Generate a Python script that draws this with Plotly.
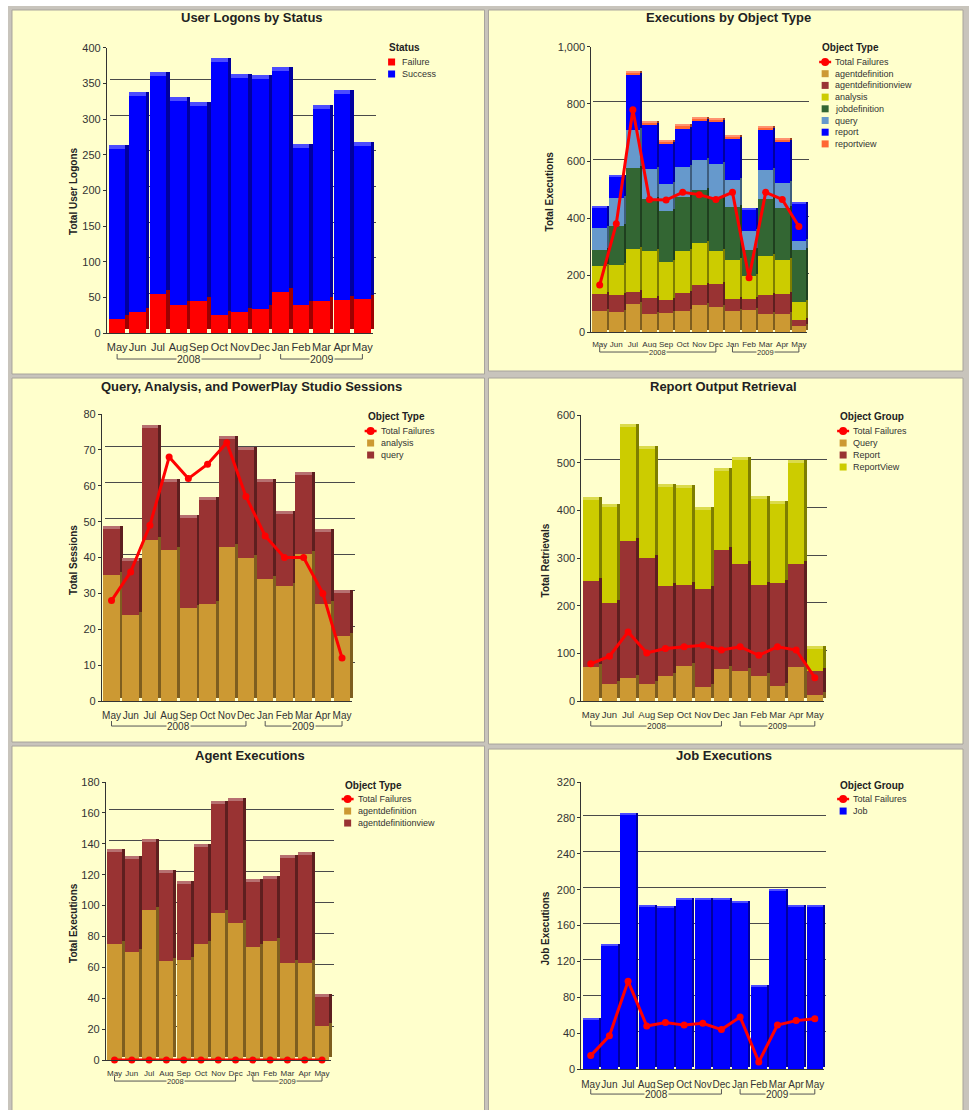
import plotly.graph_objects as go

W = 970
HF = 1128          # figure height (page px)
SCALE = 0.9893     # observed vertical scale of the photographed page
OFF = 5.06         # observed top offset of the photographed page


def px(x):
    return x / W


def py(y):
    """reference pixel row -> paper fraction"""
    page_y = y / SCALE - OFF
    return 1 - page_y / HF


# ---------------- data ----------------
months = ["May", "Jun", "Jul", "Aug", "Sep", "Oct", "Nov", "Dec", "Jan", "Feb", "Mar", "Apr", "May"]
x_idx = list(range(len(months)))
year_labels = ["2008", "2009"]
year_spans = [(0, 7), (8, 12)]

# User Logons by Status
logon_failure = [20, 29, 55, 40, 45, 25, 30, 33, 57, 40, 45, 47, 48]
logon_success = [238, 303, 305, 286, 273, 355, 328, 324, 311, 220, 270, 289, 215]

# Executions by Object Type
exec_failures = [165, 380, 780, 465, 463, 490, 482, 465, 490, 190, 490, 465, 370]
exec_agentdefinition = [75, 70, 97, 64, 65, 75, 95, 89, 73, 77, 63, 63, 22]
exec_agentdefinitionview = [60, 60, 44, 57, 49, 63, 71, 79, 42, 40, 68, 70, 19]
exec_analysis = [96, 106, 150, 163, 130, 146, 145, 117, 138, 78, 137, 120, 65]
exec_jobdefinition = [55, 137, 283, 181, 180, 188, 189, 189, 185, 91, 199, 181, 181]
exec_query = [80, 96, 135, 106, 94, 107, 104, 117, 95, 70, 103, 90, 32]
exec_report = [69, 74, 193, 158, 145, 135, 137, 147, 143, 72, 140, 143, 129]
exec_reportview = [0, 0, 6, 3, 2, 10, 8, 5, 9, 0, 7, 8, 0]

# Query, Analysis, and PowerPlay Studio Sessions
sess_failures = [28, 36, 49, 68, 62, 66, 72, 57, 46, 40, 40, 30, 12]
sess_analysis = [35, 24, 45, 42, 26, 27, 43, 40, 34, 32, 41, 27, 18]
sess_query = [13, 15, 31, 19, 25, 29, 30, 30, 27, 20, 22, 20, 12]

# Report Output Retrieval
retr_failures = [78, 94, 145, 101, 110, 114, 117, 107, 114, 96, 114, 107, 49]
retr_query = [72, 35, 49, 36, 52, 73, 30, 68, 62, 52, 32, 72, 13]
retr_report = [180, 170, 287, 264, 189, 170, 206, 249, 226, 191, 216, 216, 49]
retr_reportview = [170, 202, 239, 228, 208, 203, 165, 166, 218, 180, 166, 212, 48]

# Agent Executions
agent_failures = [0, 0, 0, 0, 0, 0, 0, 0, 0, 0, 0, 0, 0]
agent_agentdefinition = [75, 70, 97, 64, 65, 75, 95, 89, 73, 77, 63, 63, 22]
agent_agentdefinitionview = [60, 60, 44, 57, 49, 63, 71, 79, 42, 40, 68, 70, 19]

# Job Executions
job_failures = [15, 37, 98, 48, 52, 49, 51, 44, 58, 8, 49, 54, 56]
job_executions = [55, 137, 283, 181, 180, 188, 189, 189, 185, 91, 199, 181, 181]

# ---------------- styles ----------------
FONT = "Liberation Sans, Arial, sans-serif"
PANEL_BG = "#ffffcc"
FRAME = "#c8c4bc"
TXT = "#222222"
TICK = "#333333"
GRID = "#4a4a4a"

C_RED = "#ff0000"
C_BLUE = "#0000ff"
C_TAN = "#cc9933"
C_MAROON = "#993333"
C_OLIVE = "#cccc00"
C_GREEN = "#336633"
C_LBLUE = "#6699cc"
C_ORANGE = "#ff6633"


def _rgb(hexcol):
    h = hexcol.lstrip("#")
    return [int(h[i:i + 2], 16) for i in (0, 2, 4)]


def shade(hexcol, f):
    r, g, b = _rgb(hexcol)
    return "#%02x%02x%02x" % (int(r * f), int(g * f), int(b * f))


def tint(hexcol, f):
    r, g, b = _rgb(hexcol)
    return "#%02x%02x%02x" % (int(r + (255 - r) * f), int(g + (255 - g) * f), int(b + (255 - b) * f))


panels = [
    dict(n=1, box=(12, 9, 485, 373), plot=(107, 373, 332, 47), depth=(3.5, 4), barw=0.82,
         ymax=400, dtick=50, fmt="",
         title="User Logons by Status", title_xy=(252, 17),
         ytitle="Total User Logons", ytitle_xy=(73, 190),
         xfont=11, yearfont=10.5, bracket_y=358, standoff=4,
         lg_title="Status", lg_xy=(387, 47), lg_rows=[61, 73],
         series=[("bar", "Failure", logon_failure, C_RED),
                 ("bar", "Success", logon_success, C_BLUE)]),
    dict(n=2, box=(489, 9, 964, 370), plot=(592, 808, 331, 46), depth=(2, 2), barw=0.88,
         ymax=1000, dtick=200, fmt=",",
         title="Executions by Object Type", title_xy=(729, 17),
         ytitle="Total Executions", ytitle_xy=(550, 190),
         xfont=8, yearfont=7.5, bracket_y=351, standoff=4,
         lg_title="Object Type", lg_xy=(821, 47),
         lg_rows=[61, 72.7, 84.4, 96.1, 107.8, 119.5, 131.2, 142.9],
         series=[("bar", "agentdefinition", exec_agentdefinition, C_TAN),
                 ("bar", "agentdefinitionview", exec_agentdefinitionview, C_MAROON),
                 ("bar", "analysis", exec_analysis, C_OLIVE),
                 ("bar", "jobdefinition", exec_jobdefinition, C_GREEN),
                 ("bar", "query", exec_query, C_LBLUE),
                 ("bar", "report", exec_report, C_BLUE),
                 ("bar", "reportview", exec_reportview, C_ORANGE),
                 ("line", "Total Failures", exec_failures, C_RED)]),
    dict(n=3, box=(12, 377, 485, 741), plot=(102, 352, 700, 413), depth=(3, 3), barw=0.86,
         ymax=80, dtick=10, fmt="",
         title="Query, Analysis, and PowerPlay Studio Sessions", title_xy=(252, 385),
         ytitle="Total Sessions", ytitle_xy=(73, 559),
         xfont=10, yearfont=10, bracket_y=725, standoff=5,
         lg_title="Object Type", lg_xy=(366, 415), lg_rows=[430, 442, 454],
         series=[("bar", "analysis", sess_analysis, C_TAN),
                 ("bar", "query", sess_query, C_MAROON),
                 ("line", "Total Failures", sess_failures, C_RED)]),
    dict(n=4, box=(489, 377, 964, 743), plot=(582, 825, 700, 414), depth=(3, 3), barw=0.84,
         ymax=600, dtick=100, fmt="",
         title="Report Output Retrieval", title_xy=(724, 385),
         ytitle="Total Retrievals", ytitle_xy=(546, 559),
         xfont=9.5, yearfont=8.5, bracket_y=725, standoff=5,
         lg_title="Object Group", lg_xy=(839, 415), lg_rows=[430, 442, 454, 466],
         series=[("bar", "Query", retr_query, C_TAN),
                 ("bar", "Report", retr_report, C_MAROON),
                 ("bar", "ReportView", retr_reportview, C_OLIVE),
                 ("line", "Total Failures", retr_failures, C_RED)]),
    dict(n=5, box=(12, 745, 485, 1125), plot=(106, 331, 1059, 781), depth=(3, 3), barw=0.82,
         ymax=180, dtick=20, fmt="",
         title="Agent Executions", title_xy=(250, 754),
         ytitle="Total Executions", ytitle_xy=(73, 922),
         xfont=8, yearfont=7.5, bracket_y=1080, standoff=5,
         lg_title="Object Type", lg_xy=(343, 784), lg_rows=[798, 810, 822],
         series=[("bar", "agentdefinition", agent_agentdefinition, C_TAN),
                 ("bar", "agentdefinitionview", agent_agentdefinitionview, C_MAROON),
                 ("line", "Total Failures", agent_failures, C_RED)]),
    dict(n=6, box=(489, 748, 964, 1125), plot=(582, 825, 1068, 781), depth=(2, 2), barw=0.88,
         ymax=320, dtick=40, fmt="",
         title="Job Executions", title_xy=(725, 754),
         ytitle="Job Executions", ytitle_xy=(546, 927),
         xfont=10, yearfont=10, bracket_y=1093, standoff=6,
         lg_title="Object Group", lg_xy=(839, 784), lg_rows=[798, 810],
         series=[("bar", "Job", job_executions, C_BLUE),
                 ("line", "Total Failures", job_failures, C_RED)]),
]

fig = go.Figure()
shapes = []
annotations = []
layout_axes = {}

# background frame
shapes.append(dict(type="rect", xref="paper", yref="paper", x0=px(8), x1=1, y0=0, y1=py(5),
                   fillcolor=FRAME, line=dict(width=0), layer="below"))


def axnames(k):
    return ("x" if k == 1 else f"x{k}", "y" if k == 1 else f"y{k}",
            "xaxis" if k == 1 else f"xaxis{k}", "yaxis" if k == 1 else f"yaxis{k}")


# ---- back plane (gridlines + bar side faces): subplots 1..6 ----
for p in panels:
    xa, ya, xkey, ykey = axnames(p["n"])
    x0, x1, yb, yt = p["plot"]
    dx, dy = p["depth"]
    layout_axes[xkey] = dict(domain=[px(x0 + dx), px(x1 + dx)], anchor=ya, range=[-0.5, 12.5],
                             visible=False, fixedrange=True)
    layout_axes[ykey] = dict(domain=[py(yb - dy), py(yt - dy)], anchor=xa, range=[0, p["ymax"]],
                             dtick=p["dtick"], tick0=0, showgrid=True, gridcolor=GRID, gridwidth=1,
                             zeroline=False, showline=False, showticklabels=False, ticks="",
                             fixedrange=True)
    for kind, name, vals, col in p["series"]:
        if kind == "bar":
            fig.add_trace(go.Bar(x=x_idx, y=vals, name=name, xaxis=xa, yaxis=ya, width=p["barw"],
                                 marker=dict(color=shade(col, 0.62), line=dict(width=0)),
                                 showlegend=False, hoverinfo="skip"))

# ---- top faces: subplots 7..12 ----
for p in panels:
    xa, ya, xkey, ykey = axnames(p["n"] + 6)
    x0, x1, yb, yt = p["plot"]
    dx, dy = p["depth"]
    layout_axes[xkey] = dict(domain=[px(x0), px(x1)], anchor=ya, range=[-0.5, 12.5],
                             visible=False, fixedrange=True)
    layout_axes[ykey] = dict(domain=[py(yb - dy), py(yt - dy)], anchor=xa, range=[0, p["ymax"]],
                             visible=False, showgrid=False, fixedrange=True)
    for kind, name, vals, col in p["series"]:
        if kind == "bar":
            fig.add_trace(go.Bar(x=x_idx, y=vals, name=name, xaxis=xa, yaxis=ya, width=p["barw"],
                                 marker=dict(color=tint(col, 0.3), line=dict(width=0)),
                                 showlegend=False, hoverinfo="skip"))

# ---- front plane: subplots 13..18 ----
for p in panels:
    xa, ya, xkey, ykey = axnames(p["n"] + 12)
    bx0, by0, bx1, by1 = p["box"]
    shapes.append(dict(type="rect", xref="paper", yref="paper", x0=px(bx0), x1=px(bx1),
                       y0=py(by1), y1=py(by0), fillcolor=PANEL_BG,
                       line=dict(color="#a8a49c", width=1), layer="below"))
    x0, x1, yb, yt = p["plot"]
    layout_axes[xkey] = dict(domain=[px(x0), px(x1)], anchor=ya, range=[-0.5, 12.5],
                             tickmode="array", tickvals=x_idx, ticktext=months, tickangle=0,
                             showgrid=False, zeroline=False, showline=True, linecolor=TICK,
                             linewidth=1, ticks="", ticklabelstandoff=p["standoff"],
                             tickfont=dict(family=FONT, size=p["xfont"], color=TICK),
                             fixedrange=True)
    layout_axes[ykey] = dict(domain=[py(yb), py(yt)], anchor=xa, range=[0, p["ymax"]],
                             dtick=p["dtick"], tick0=0, tickformat=p["fmt"],
                             showgrid=False, zeroline=False,
                             showline=True, linecolor=TICK, linewidth=1,
                             ticks="outside", ticklen=3, tickcolor=TICK,
                             tickfont=dict(family=FONT, size=11, color=TICK),
                             fixedrange=True)
    for kind, name, vals, col in p["series"]:
        if kind == "bar":
            fig.add_trace(go.Bar(x=x_idx, y=vals, name=name, xaxis=xa, yaxis=ya, width=p["barw"],
                                 marker=dict(color=col, line=dict(width=0)),
                                 showlegend=False))
        else:
            fig.add_trace(go.Scatter(x=x_idx, y=vals, name=name, xaxis=xa, yaxis=ya,
                                     mode="lines+markers", cliponaxis=False,
                                     line=dict(color=col, width=3),
                                     marker=dict(color=col, size=7), showlegend=False))
    # title
    tx, ty = p["title_xy"]
    annotations.append(dict(text=f"<b>{p['title']}</b>", x=px(tx), y=py(ty), xref="paper", yref="paper",
                            xanchor="center", yanchor="middle", showarrow=False,
                            font=dict(family=FONT, size=13, color=TXT)))
    # y title
    yx, yy = p["ytitle_xy"]
    annotations.append(dict(text=f"<b>{p['ytitle']}</b>", x=px(yx), y=py(yy), xref="paper", yref="paper",
                            xanchor="center", yanchor="middle", showarrow=False, textangle=-90,
                            font=dict(family=FONT, size=10, color=TXT)))
    # year brackets
    by = p["bracket_y"]
    for lab, (a, b) in zip(year_labels, year_spans):
        shapes.append(dict(type="path", xref=xa, yref="paper",
                           path=f"M {a},{py(by - 5)} L {a},{py(by)} L {b},{py(by)} L {b},{py(by - 5)}",
                           line=dict(color="#555555", width=1)))
        annotations.append(dict(text=lab, x=(a + b) / 2, y=py(by), xref=xa, yref="paper",
                                xanchor="center", yanchor="middle", showarrow=False,
                                bgcolor=PANEL_BG, borderpad=0,
                                font=dict(family=FONT, size=p["yearfont"], color=TICK)))
    # manual legend
    lx, lyt = p["lg_xy"]
    annotations.append(dict(text=f"<b>{p['lg_title']}</b>", x=px(lx), y=py(lyt), xref="paper", yref="paper",
                            xanchor="left", yanchor="middle", showarrow=False,
                            font=dict(family=FONT, size=10, color=TXT)))
    entries = [s for s in p["series"] if s[0] == "line"] + [s for s in p["series"] if s[0] == "bar"]
    for (kind, name, vals, col), ry in zip(entries, p["lg_rows"]):
        cx = lx + 5
        if kind == "line":
            shapes.append(dict(type="line", xref="paper", yref="paper", x0=px(cx - 6), x1=px(cx + 6),
                               y0=py(ry), y1=py(ry), line=dict(color=col, width=2.5)))
            shapes.append(dict(type="circle", xref="paper", yref="paper", x0=px(cx - 4), x1=px(cx + 4),
                               y0=py(ry + 4), y1=py(ry - 4), fillcolor=col, line=dict(width=0)))
        else:
            shapes.append(dict(type="rect", xref="paper", yref="paper", x0=px(cx - 3.5), x1=px(cx + 3.5),
                               y0=py(ry + 3.5), y1=py(ry - 3.5), fillcolor=col, line=dict(width=0)))
        annotations.append(dict(text=name, x=px(cx + 8), y=py(ry), xref="paper", yref="paper",
                                xanchor="left", yanchor="middle", showarrow=False,
                                font=dict(family=FONT, size=9, color=TICK)))

fig.update_layout(
    width=W, height=HF, autosize=False,
    margin=dict(l=0, r=0, t=0, b=0),
    paper_bgcolor="#ffffff", plot_bgcolor="rgba(0,0,0,0)",
    barmode="stack",
    showlegend=False,
    shapes=shapes, annotations=annotations,
    font=dict(family=FONT, color=TXT),
    **layout_axes,
)

PAGE_FIX = (
    "var d=document.documentElement,b=document.body;"
    "[d,b].forEach(function(e){e.style.margin='0';e.style.padding='0';e.style.overflow='hidden';});"
)

fig.write_html("out.html", config={"displayModeBar": False}, post_script=PAGE_FIX)
